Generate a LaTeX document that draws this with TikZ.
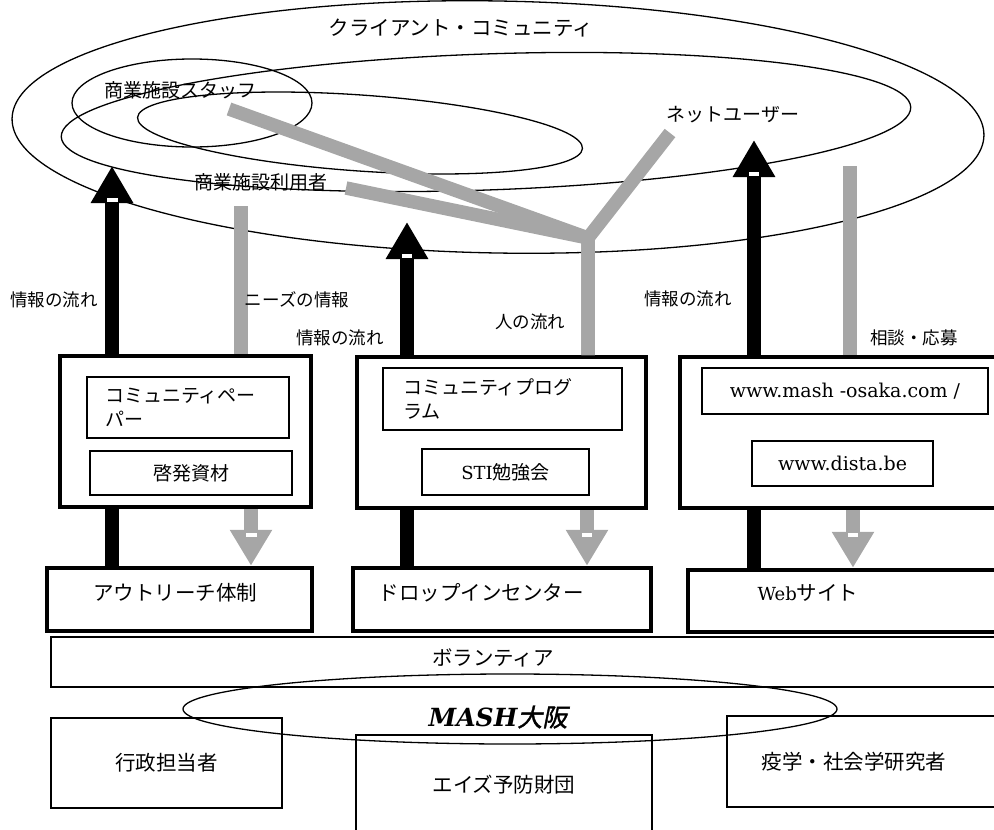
\documentclass[tikz,border=0pt]{standalone}
\usepackage{fontspec}
\usetikzlibrary{arrows.meta}
\newfontfamily\jp{Noto Sans CJK JP}
\newfontfamily\jpbi{Noto Sans CJK JP}[FakeSlant=0.2,FakeBold=1.5]
\newfontfamily\latin{DejaVu Serif}
\definecolor{flowgray}{HTML}{A6A6A6}
\tikzset{ringline/.style = {line width=1.3pt},
         panelbox/.style = {draw, line width=4pt, inner sep=0pt},
         partbox/.style = {draw, line width=2.2pt, inner sep=0pt, font=\jp\fontsize{19}{24}\selectfont},
         unitbox/.style = {draw, line width=4.5pt, inner sep=0pt},
         barbox/.style = {draw, line width=1.8pt, inner sep=0pt},
         orgbox/.style = {draw, line width=1.8pt, inner sep=0pt, font=\jp\fontsize{20.5}{24}\selectfont},
         infoflow/.style = {line width=13.5pt, -{Triangle[length=37pt,width=40pt]}},
         supplyflow/.style = {flowgray, line width=14pt, -{Triangle[length=36pt,width=40pt]}},
         peopleflow/.style = {flowgray, line width=13.5pt, line join=bevel},
         flowlabel/.style = {font=\jp\fontsize{17.5}{21}\selectfont},
         grouplabel/.style = {font=\jp\fontsize{19}{23}\selectfont},
         bigtext/.style = {font=\jp\fontsize{20.5}{24}\selectfont},
         urltext/.style = {font=\latin\fontsize{19}{23}\selectfont}}

\begin{document}
\begin{tikzpicture}[x=1pt, y=-1pt]
    \useasboundingbox (0,0) rectangle (994,830);
    \clip (0,0) rectangle (994,830);
    % client community
    \draw[ringline, rotate around={-1:(498,127)}] (498,127) ellipse [x radius=486, y radius=126];
    \draw[ringline, rotate around={2:(486,122)}] (486,122) ellipse [x radius=425, y radius=68];
    \draw[ringline] (192,103) ellipse [x radius=120, y radius=44];
    \draw[ringline, rotate around={-4:(360,133)}] (360,133) ellipse [x radius=223, y radius=38];
    \node[bigtext] (community) at (461,28) {クライアント・コミュニティ};
    \node[grouplabel] (staff) at (180,90) {商業施設スタッフ};
    \node[grouplabel] (visitors) at (261,182) {商業施設利用者};
    \node[grouplabel] (netusers) at (733,115) {ネットユーザー};

    % media panels
    \node[panelbox, minimum width=251pt, minimum height=151pt] (outreachpanel) at (185.5,431.5) {};
    \node[partbox, minimum width=202pt, minimum height=61pt, text width=166pt, align=left] (paper) at (188,407.5) {コミュニティペー\\パー};
    \node[partbox, minimum width=202pt, minimum height=44pt] (material) at (191,473) {啓発資材};
    \node[panelbox, minimum width=289pt, minimum height=151pt] (dropinpanel) at (501.5,432.5) {};
    \node[partbox, minimum width=239pt, minimum height=62pt, text width=199pt, align=left] (program) at (502.5,399) {コミュニティプログ\\ラム};
    \node[partbox, minimum width=167pt, minimum height=46pt] (study) at (505.5,472) {{\latin\fontsize{18}{22}\selectfont STI}勉強会};
    \node[panelbox, minimum width=330pt, minimum height=151pt] (webpanel) at (845,432.5) {};
    \node[partbox, urltext, minimum width=286pt, minimum height=46pt] (mashurl) at (845,391) {www.mash -osaka.com /};
    \node[partbox, urltext, minimum width=181pt, minimum height=45pt] (distaurl) at (842.5,463.5) {www.dista.be};

    % units
    \node[unitbox, minimum width=265pt, minimum height=63pt] (outreach) at (179.5,599.5) {};
    \node[bigtext] (outreachtext) at (175,593) {アウトリーチ体制};
    \node[unitbox, minimum width=298pt, minimum height=63pt] (dropin) at (502,599.5) {};
    \node[bigtext] (dropintext) at (481,593) {ドロップインセンター};
    \node[unitbox, minimum width=322pt, minimum height=62pt] (website) at (849,601) {};
    \node[bigtext] (websitetext) at (808,593) {{\latin\fontsize{18}{22}\selectfont Web}サイト};
    \node[barbox, minimum width=959pt, minimum height=50pt] (volunteer) at (530.5,662) {};
    \node[bigtext] (volunteertext) at (493,658) {ボランティア};

    % MASH
    \draw[ringline] (510,709) ellipse [x radius=327, y radius=35];
    \node[font=\fontsize{25}{30}\selectfont] (mash) at (498,717) {{\latin\bfseries\itshape MASH}{\jpbi 大阪}};
    \node[orgbox, minimum width=231pt, minimum height=90pt] (admin) at (166.5,763) {行政担当者};
    \node[orgbox, minimum width=296pt, minimum height=100pt] (jaf) at (504,785) {エイズ予防財団};
    \node[orgbox, minimum width=283pt, minimum height=91pt] (research) at (868.5,761.5) {};
    \node[bigtext] (researchtext) at (854,762) {疫学・社会学研究者};

    % flows
    \coordinate (tipL) at (112,166);
    \coordinate (tipM) at (407,222);
    \coordinate (tipR) at (754,140);
    \coordinate (needsend) at (241,206);
    \coordinate (consultend) at (850,166);
    \coordinate (staffend) at (229,109);
    \coordinate (visitorend) at (346,188);
    \coordinate (netend) at (670,133);
    \coordinate (fork) at (588,238);
    \coordinate (supplyL) at (251,540);
    \coordinate (supplyM) at (587,540);
    \coordinate (supplyR) at (853,540);

    \draw[peopleflow] (needsend) -- (outreachpanel.north -| needsend);
    \draw[peopleflow] (consultend) -- (webpanel.north -| consultend);
    \draw[peopleflow] (staffend) -- (fork) -- (dropinpanel.north -| fork);
    \draw[peopleflow] (visitorend) -- (fork) -- (dropinpanel.north -| fork);
    \draw[peopleflow] (netend) -- (fork) -- (dropinpanel.north -| fork);

    \draw[infoflow] (outreachpanel.north -| tipL) -- (tipL);
    \draw[infoflow] (dropinpanel.north -| tipM) -- (tipM);
    \draw[infoflow] (webpanel.north -| tipR) -- (tipR);
    \draw[line width=13.5pt] (outreach.north -| tipL) -- (outreachpanel.south -| tipL);
    \draw[line width=13.5pt] (dropin.north -| tipM) -- (dropinpanel.south -| tipM);
    \draw[line width=13.5pt] (website.north -| tipR) -- (webpanel.south -| tipR);
    \fill[white] (106.5,198) rectangle (117.5,202);
    \fill[white] (402,254) rectangle (412,258);
    \fill[white] (749,172) rectangle (759,176);

    \draw[supplyflow] (outreachpanel.south -| supplyL) -- (outreach.north -| supplyL);
    \draw[supplyflow] (dropinpanel.south -| supplyM) -- (dropin.north -| supplyM);
    \draw[supplyflow] (webpanel.south -| supplyR) -- (website.north -| supplyR);
    \fill[white] (246,533) rectangle (257,537);
    \fill[white] (582,533) rectangle (592,537);
    \fill[white] (848,533) rectangle (858,537);

    \node[flowlabel] (infoL) at (54,300) {情報の流れ};
    \node[flowlabel] (needs) at (297,300) {ニーズの情報};
    \node[flowlabel] (infoM) at (340,338) {情報の流れ};
    \node[flowlabel] (people) at (530,322) {人の流れ};
    \node[flowlabel] (infoR) at (688,299) {情報の流れ};
    \node[flowlabel] (consult) at (914,338) {相談・応募};
\end{tikzpicture}
\end{document}
